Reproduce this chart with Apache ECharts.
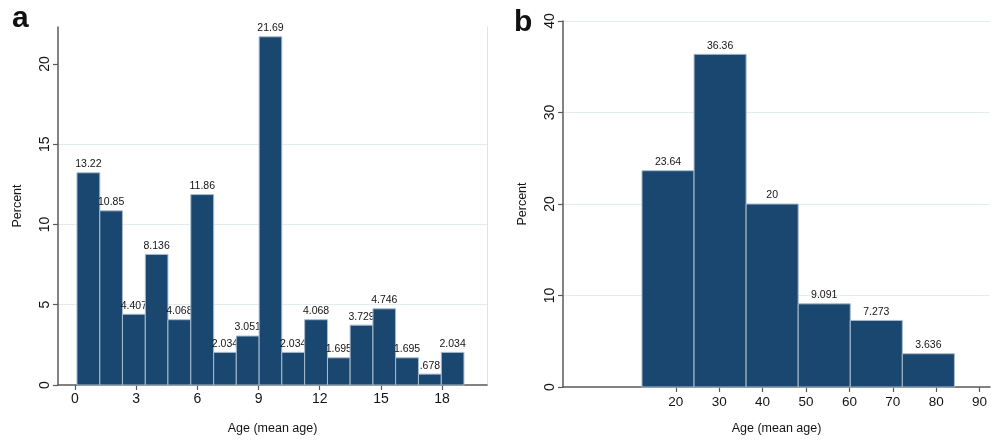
<!DOCTYPE html>
<html><head><meta charset="utf-8">
<script src="https://cdn.jsdelivr.net/npm/echarts@6/dist/echarts.min.js"></script>
<style>html,body{margin:0;padding:0;background:#fff}#chart{width:994px;height:440px}</style>
</head><body><div id="chart"></div>
<script>
// ---- data ----
const binEdgesA = [0.10,1.22,2.33,3.45,4.56,5.68,6.80,7.91,9.03,10.14,11.26,12.38,13.49,14.61,15.72,16.84,17.96,19.07];
const percentA = [13.22,10.85,4.407,8.136,4.068,11.86,2.034,3.051,21.69,2.034,4.068,1.695,3.729,4.746,1.695,0.678,2.034];
const xTicksA = [0,3,6,9,12,15,18];
const yTicksA = [0,5,10,15,20];
const binEdgesB = [12.2,24.2,36.2,48.2,60.2,72.2,84.2];
const percentB = [23.64,36.36,20,9.091,7.273,3.636];
const xTicksB = [20,30,40,50,60,70,80,90];
const yTicksB = [0,10,20,30,40];
const panelLabels = ['a','b'];
const axisTitleX = 'Age (mean age)';
const axisTitleY = 'Percent';

// ---- styling ----
const FONT = '"Liberation Sans", Arial, sans-serif';
const BAR = '#1a476f';
const AXIS = '#5a5a5a';
const GRID = '#e4ecf0';
const TEXT = '#141414';

function fmt(v){ return String(v).replace(/^0\./,'.'); }
function toItems(edges, vals){ return vals.map((v,i)=>[edges[i], edges[i+1], v]); }

function renderBar(params, api){
  const lo = api.value(0), hi = api.value(1), v = api.value(2);
  const p0 = api.coord([lo, 0]);
  const p1 = api.coord([hi, v]);
  return {type:'group', children:[
    {type:'rect', shape:{x:p0[0], y:p1[1], width:p1[0]-p0[0], height:p0[1]-p1[1]},
     style:{fill:BAR, stroke:'#a9bccd', lineWidth:1}},
    {type:'text', x:(p0[0]+p1[0])/2, y:p1[1]-3,
     style:{text:fmt(v), align:'center', verticalAlign:'bottom', textAlign:'center', textVerticalAlign:'bottom',
            fontSize:10.5, fontFamily:FONT, fill:TEXT}}
  ]};
}

const axisLine = {show:true, onZero:false, lineStyle:{color:AXIS, width:1.5}};

const option = {
  backgroundColor:'#fff',
  animation:false,
  graphic:[
    {type:'text', left:12, top:4, style:{text:panelLabels[0], font:'bold 30px '+FONT, fill:'#111'}},
    {type:'text', left:514, top:8, style:{text:panelLabels[1], font:'bold 30px '+FONT, fill:'#111'}}
  ],
  grid:[
    {left:58, right:507, top:27, bottom:54},
    {left:563, right:4, top:21, bottom:51}
  ],
  xAxis:[
    {gridIndex:0, type:'value', min:-0.83, max:20.2,
     axisLine:axisLine,
     axisTick:{show:true, length:5, customValues:xTicksA, lineStyle:{color:AXIS, width:1.2}},
     axisLabel:{customValues:xTicksA, fontSize:14, margin:7, color:TEXT, fontFamily:FONT},
     splitLine:{show:false},
     name:axisTitleX, nameLocation:'middle', nameGap:37,
     nameTextStyle:{fontSize:12.5, color:TEXT, fontFamily:FONT}},
    {gridIndex:1, type:'value', min:-6, max:92.4,
     axisLine:axisLine,
     axisTick:{show:true, length:5, customValues:xTicksB, lineStyle:{color:AXIS, width:1.2}},
     axisLabel:{customValues:xTicksB, fontSize:13.5, margin:8, color:TEXT, fontFamily:FONT},
     splitLine:{show:false},
     name:axisTitleX, nameLocation:'middle', nameGap:35,
     nameTextStyle:{fontSize:12.5, color:TEXT, fontFamily:FONT}}
  ],
  yAxis:[
    {gridIndex:0, type:'value', min:0, max:22.3, interval:5,
     axisLine:axisLine,
     axisTick:{show:true, length:5, customValues:yTicksA, lineStyle:{color:AXIS, width:1.2}},
     axisLabel:{customValues:yTicksA, rotate:90, fontSize:14, margin:6, color:TEXT, fontFamily:FONT},
     splitLine:{show:true, showMinLine:false, showMaxLine:false, lineStyle:{color:GRID, width:1}},
     name:axisTitleY, nameLocation:'middle', nameGap:34,
     nameTextStyle:{fontSize:12.5, color:TEXT, fontFamily:FONT}},
    {gridIndex:1, type:'value', min:0, max:40, interval:10,
     axisLine:axisLine,
     axisTick:{show:true, length:5, customValues:yTicksB, lineStyle:{color:AXIS, width:1.2}},
     axisLabel:{customValues:yTicksB, rotate:90, fontSize:14, margin:6, color:TEXT, fontFamily:FONT},
     splitLine:{show:true, showMinLine:false, showMaxLine:true, lineStyle:{color:GRID, width:1}},
     name:axisTitleY, nameLocation:'middle', nameGap:34,
     nameTextStyle:{fontSize:12.5, color:TEXT, fontFamily:FONT}},
    {gridIndex:0, type:'value', position:'right', min:0, max:22.3,
     axisLine:{show:true, onZero:false, lineStyle:{color:'#e2e2e2', width:1}},
     axisTick:{show:false}, axisLabel:{show:false}, splitLine:{show:false}}
  ],
  series:[
    {type:'custom', xAxisIndex:0, yAxisIndex:0, renderItem:renderBar,
     encode:{x:[0,1], y:2}, data:toItems(binEdgesA, percentA)},
    {type:'custom', xAxisIndex:1, yAxisIndex:1, renderItem:renderBar,
     encode:{x:[0,1], y:2}, data:toItems(binEdgesB, percentB)}
  ]
};
const chart = echarts.init(document.getElementById('chart'), null, {renderer:'canvas'});
chart.setOption(option);
</script></body></html>
